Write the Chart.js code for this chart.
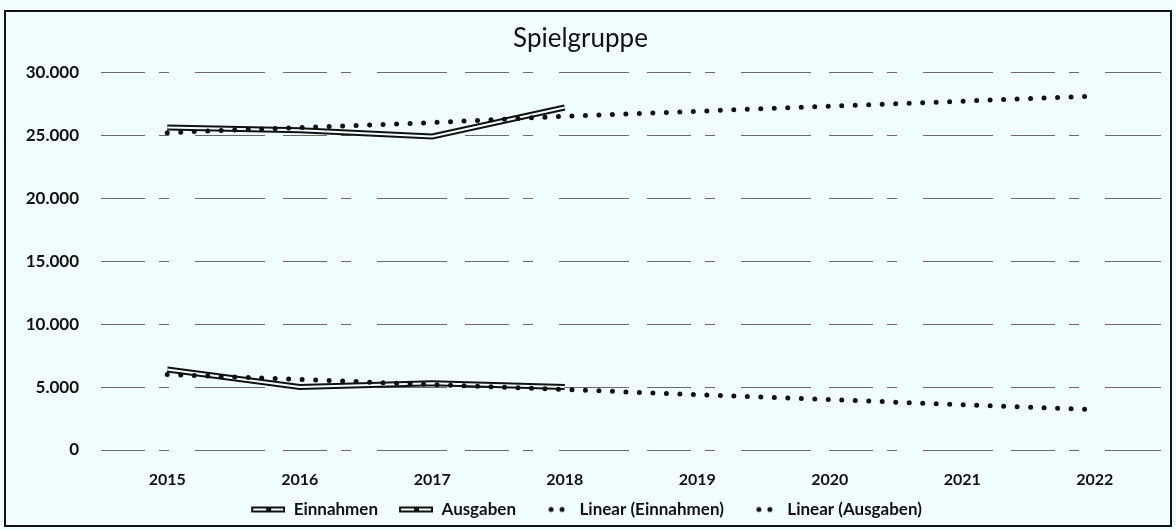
<!DOCTYPE html>
<html>
<head>
<meta charset="utf-8">
<script src="https://cdn.jsdelivr.net/npm/chart.js@4"></script>
<style>
  html, body { margin: 0; padding: 0; background: #f0fefe; }
  #wrap { width: 1176px; height: 530px; }
</style>
</head>
<body>
<div id="wrap"><canvas id="spielgruppe" width="1176" height="530"></canvas></div>
<script>
const years = ['2015', '2016', '2017', '2018', '2019', '2020', '2021', '2022'];
const einnahmen = [25600, 25400, 24900, 27200, null, null, null, null];
const ausgaben = [6400, 5000, 5300, 5000, null, null, null, null];
const trend_einnahmen = [25200, 25600, 26000, 26500, 26900, 27300, 27700, 28100];
const trend_ausgaben = [6000, 5600, 5200, 4800, 4400, 4000, 3600, 3200];

const bg = '#f0fefe';
const ink = '#111111';
const fontName = 'Lato';

// legend icons: double line and two dots, drawn flush right in a 46px box
function doubleLineIcon() {
    const c = document.createElement('canvas');
    c.width = 46; c.height = 8;
    const x = c.getContext('2d');
    x.strokeStyle = ink; x.lineWidth = 6;
    x.beginPath(); x.moveTo(12, 4); x.lineTo(46, 4); x.stroke();
    x.strokeStyle = bg; x.lineWidth = 2;
    x.beginPath(); x.moveTo(14, 4); x.lineTo(44, 4); x.stroke();
    x.fillStyle = ink;
    x.fillRect(27, 1, 5, 6);
    return c;
}
function dotsIcon() {
    const c = document.createElement('canvas');
    c.width = 46; c.height = 8;
    const x = c.getContext('2d');
    x.fillStyle = ink;
    [26, 37].forEach(function(cx) {
        x.beginPath(); x.arc(cx, 4, 2.5, 0, Math.PI * 2); x.fill();
    });
    return c;
}

const framePlugin = {
    id: 'frame',
    beforeDraw: (chart) => {
        const {ctx} = chart;
        ctx.save();
        ctx.fillStyle = bg;
        ctx.fillRect(0, 0, chart.width, chart.height);
        ctx.strokeStyle = ink;
        ctx.lineWidth = 2;
        ctx.strokeRect(5, 11, 1166, 515);
        ctx.restore();
    }
};

// light core inside the thick series lines (double line look)
const innerLinePlugin = {
    id: 'innerLine',
    afterDatasetDraw: (chart, args) => {
        const ds = chart.data.datasets[args.index];
        if (!ds.doubleLine) return;
        const pts = args.meta.data.filter(function(p) { return !p.skip; });
        const {ctx} = chart;
        ctx.save();
        ctx.strokeStyle = bg;
        ctx.lineWidth = 2;
        ctx.lineJoin = 'round';
        ctx.beginPath();
        pts.forEach(function(p, i) {
            if (i === 0) ctx.moveTo(p.x, p.y); else ctx.lineTo(p.x, p.y);
        });
        ctx.stroke();
        ctx.restore();
    }
};

const data = {
    labels: years,
    datasets: [
        {
            label: 'Einnahmen',
            data: einnahmen,
            borderColor: ink,
            borderWidth: 6,
            pointRadius: 0,
            pointStyle: doubleLineIcon(),
            doubleLine: true,
            order: 2
        },
        {
            label: 'Ausgaben',
            data: ausgaben,
            borderColor: ink,
            borderWidth: 6,
            pointRadius: 0,
            pointStyle: doubleLineIcon(),
            doubleLine: true,
            order: 2
        },
        {
            label: 'Linear (Einnahmen)',
            data: trend_einnahmen,
            borderColor: ink,
            borderWidth: 5,
            borderDash: [0, 13.5],
            borderCapStyle: 'round',
            pointRadius: 0,
            pointStyle: dotsIcon(),
            order: 1
        },
        {
            label: 'Linear (Ausgaben)',
            data: trend_ausgaben,
            borderColor: ink,
            borderWidth: 5,
            borderDash: [0, 13.5],
            borderCapStyle: 'round',
            pointRadius: 0,
            pointStyle: dotsIcon(),
            order: 1
        }
    ]
};

const chart = new Chart(document.getElementById('spielgruppe'), {
    type: 'line',
    data: data,
    options: {
        responsive: false,
        animation: false,
        layout: {
            padding: { top: 17, right: 15, bottom: 2, left: 0 }
        },
        scales: {
            y: {
                min: 0,
                max: 30000,
                afterFit: (scale) => { scale.width = 101; },
                ticks: {
                    stepSize: 5000,
                    padding: 22,
                    color: ink,
                    font: { family: fontName, size: 17, weight: 'bold' },
                    callback: function(v) { return v.toLocaleString('de-DE'); }
                },
                grid: {
                    color: '#6a6a6a',
                    lineWidth: 1,
                    drawTicks: false
                },
                border: { display: false, dash: [44, 14, 10, 26, 70, 18] }
            },
            x: {
                offset: true,
                grid: { display: false, drawTicks: false },
                border: { display: false },
                afterFit: (scale) => { scale.height = 42; },
                ticks: {
                    padding: 20,
                    color: ink,
                    font: { family: fontName, size: 16, weight: 'bold' }
                }
            }
        },
        plugins: {
            title: {
                display: true,
                text: 'Spielgruppe',
                color: ink,
                font: { family: fontName, size: 26, weight: 'normal' },
                padding: { top: 6, bottom: 18 }
            },
            legend: {
                position: 'bottom',
                labels: {
                    usePointStyle: true,
                    pointStyleWidth: 46,
                    padding: 9,
                    color: ink,
                    font: { family: fontName, size: 17, weight: 'bold' },
                    sort: (a, b) => a.datasetIndex - b.datasetIndex
                }
            },
            tooltip: { enabled: false }
        }
    },
    plugins: [framePlugin, innerLinePlugin]
});
</script>
</body>
</html>
